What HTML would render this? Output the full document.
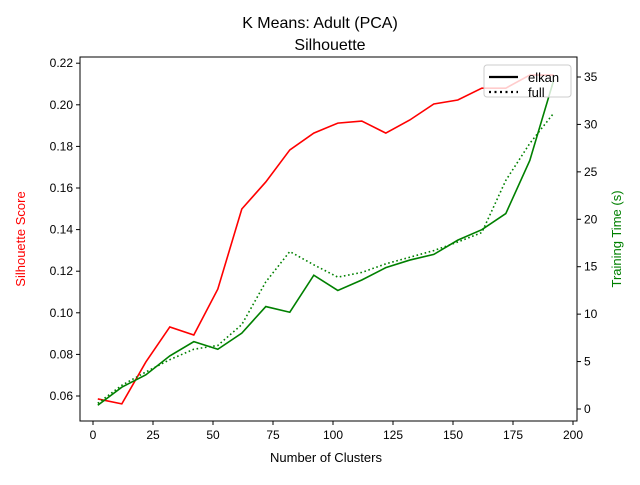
<!DOCTYPE html>
<html><head><meta charset="utf-8"><style>body{margin:0;background:#fff}svg{font-family:"Liberation Sans",sans-serif}</style></head>
<body>
<svg id="c" width="640" height="480"></svg>
<script>
const clusters=[2,12,22,32,42,52,62,72,82,92,102,112,122,132,142,152,162,172,182,192];
const silhouette=[0.0586,0.0562,0.0763,0.0932,0.0893,0.1114,0.1499,0.1629,0.1783,0.1864,0.1912,0.1922,0.1864,0.1927,0.2004,0.2023,0.208,0.208,0.2143,0.2143];
const elkanTime=[0.4,2.3,3.6,5.6,7.1,6.3,8.0,10.8,10.2,14.1,12.5,13.6,14.9,15.7,16.3,17.8,18.9,20.6,26.2,34.7];
const fullTime=[0.6,2.5,3.9,5.2,6.3,6.7,8.9,13.4,16.6,15.2,13.9,14.4,15.3,16.0,16.7,17.6,18.6,24.1,28.0,31.2];
const xTicks=[0,25,50,75,100,125,150,175,200];
const yTicks=[0.06,0.08,0.10,0.12,0.14,0.16,0.18,0.20,0.22];
const y2Ticks=[0,5,10,15,20,25,30,35];
const L=80,R=577,T=57,B=421;
const X=v=>93+v*2.4;
const Y=v=>396-(v-0.06)*2080;
const Y2=v=>409-v*9.486;
const s=document.getElementById('c');const NS='http://www.w3.org/2000/svg';
function el(t,a,p){const e=document.createElementNS(NS,t);for(const k in a)e.setAttribute(k,a[k]);(p||s).appendChild(e);return e;}
function txt(x,y,str,a){const e=el('text',Object.assign({x:x,y:y,'font-size':13},a));e.textContent=str;return e;}
let e;
e=txt(320,28,'K Means: Adult (PCA)',{'text-anchor':'middle','font-size':16});

e=txt(330,50,'Silhouette',{'text-anchor':'middle','font-size':16});

xTicks.forEach(v=>{el('line',{x1:X(v),x2:X(v),y1:B,y2:B+4,stroke:'#000'});
e=txt(X(v),B+18,String(v),{'text-anchor':'middle','font-size':12});
});
yTicks.forEach(v=>{el('line',{x1:L-4,x2:L,y1:Y(v),y2:Y(v),stroke:'#000'});
e=txt(L-7,Y(v)+4,v.toFixed(2),{'text-anchor':'end','font-size':12});
});
y2Ticks.forEach(v=>{el('line',{x1:R,x2:R+4,y1:Y2(v),y2:Y2(v),stroke:'#000'});
e=txt(R+7,Y2(v)+4,String(v),{'font-size':12});
});
e=txt(326,462,'Number of Clusters',{'text-anchor':'middle'});

e=txt(0,0,'Silhouette Score',{'text-anchor':'middle',fill:'red',transform:'translate(25,239) rotate(-90)'});

e=txt(0,0,'Training Time (s)',{'text-anchor':'middle',fill:'green',transform:'translate(621,239) rotate(-90)'});

function line(vals,f,a,name){e=el('polyline',Object.assign({points:clusters.map((c,i)=>X(c)+','+f(vals[i])).join(' '),fill:'none','stroke-width':1.6},a));
}
line(silhouette,Y,{stroke:'red'},'silhouette-line');
line(elkanTime,Y2,{stroke:'green'},'elkan-time-line');
line(fullTime,Y2,{stroke:'green','stroke-dasharray':'1.6,2.6'},'full-time-line');
e=el('rect',{x:L,y:T,width:R-L,height:B-T,fill:'none',stroke:'#000'});

const g=el('g',{});
el('rect',{x:484,y:65,width:87,height:32,rx:3,fill:'rgba(255,255,255,0.8)',stroke:'#ccc'},g);
el('line',{x1:489,x2:518,y1:77,y2:77,stroke:'#000','stroke-width':2.2},g);
el('line',{x1:489,x2:518,y1:92,y2:92,stroke:'#000','stroke-width':2.2,'stroke-dasharray':'2,3.5'},g);
e=el('text',{x:528,y:82,'font-size':13},g);e.textContent='elkan';
e=el('text',{x:528,y:97,'font-size':13},g);e.textContent='full';
</script>
</body></html>
